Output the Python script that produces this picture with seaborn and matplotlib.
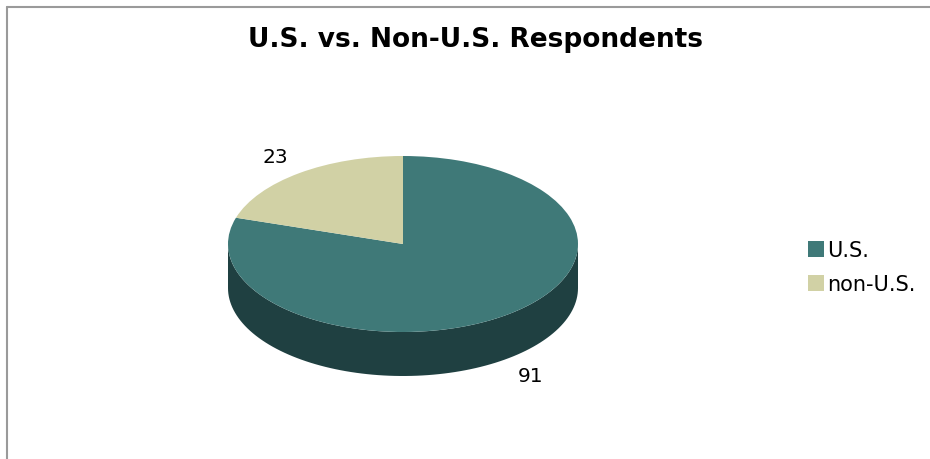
import numpy as np
import matplotlib
matplotlib.use("Agg")
import matplotlib.pyplot as plt
from matplotlib.patches import Wedge, Polygon, Rectangle
from matplotlib.lines import Line2D
import seaborn as sns

sns.set_theme(style="white")
plt.rcParams['font.family'] = ['DejaVu Sans']

# data
labels = ["U.S.", "non-U.S."]
counts = [91, 23]
top_colors = ["#3f7978", "#d1d1a5"]
side_colors = ["#1f4041", "#8f8f6e"]

title = "U.S. vs. Non-U.S. Respondents"

fig = plt.figure(figsize=(9.3, 4.6), dpi=100)
W, H = 930, 460

# frame lines (top and left)
fig.add_artist(Line2D([7 / W, 1], [1 - 8 / H, 1 - 8 / H], color="#9a9a9a", lw=1.5))
fig.add_artist(Line2D([7 / W, 7 / W], [0, 1 - 8 / H], color="#9a9a9a", lw=1.5))

fig.text(475 / W, 1 - 40 / H, title, ha="center", va="center",
         fontsize=19, fontweight="bold", color="black")

# pie axes: unit circle squashed into an ellipse, depth below
depth = 0.5
ax = fig.add_axes([228 / W, 1 - 377 / H, 350 / W, 220 / H])
ax.set_xlim(-1, 1)
ax.set_ylim(-1 - depth, 1)
ax.set_aspect("auto")
ax.axis("off")

total = sum(counts)
start = 90.0
angles = []
for c in counts:
    span = 360.0 * c / total
    angles.append((start - span, start))
    start -= span

# side walls (front half only: 180..360 deg)
for (a0, a1), col in zip(angles, side_colors):
    for shift in (0, 360, -360):
        lo = max(a0 + shift, 180)
        hi = min(a1 + shift, 360)
        if hi > lo:
            t = np.radians(np.linspace(lo, hi, 100))
            x = np.cos(t)
            y = np.sin(t)
            pts = np.concatenate([np.column_stack([x, y]),
                                  np.column_stack([x[::-1], y[::-1] - depth])])
            ax.add_patch(Polygon(pts, closed=True, fc=col, ec="none"))

# top face
for (a0, a1), col in zip(angles, top_colors):
    ax.add_patch(Wedge((0, 0), 1, a0, a1, fc=col, ec="none"))

# value labels
for (a0, a1), c in zip(angles, counts):
    mid = np.radians((a0 + a1) / 2)
    lx = 1.23 * np.cos(mid)
    ly = 1.23 * np.sin(mid)
    if ly < 0:
        ly -= depth
    ax.text(lx, ly, str(c), ha="center", va="center", fontsize=14.5,
            color="black", clip_on=False)

# legend
for i, (lab, col) in enumerate(zip(labels, top_colors)):
    yc = 250 + i * 34
    fig.add_artist(Rectangle((808 / W, 1 - (yc + 8) / H), 16 / W, 16 / H,
                             transform=fig.transFigure, fc=col, ec="none"))
    fig.text(827 / W, 1 - (yc + 1) / H, lab, ha="left", va="center", fontsize=15,
             color="black")

fig.savefig("out.png", dpi=100)
